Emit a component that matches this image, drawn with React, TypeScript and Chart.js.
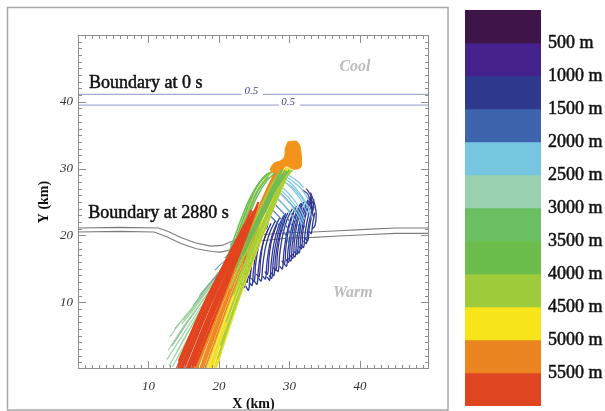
import React, { useEffect, useRef } from "react";
import { Chart, registerables } from "chart.js";

Chart.register(...registerables);

const FONT = "Liberation Serif";

// axes
const xRange = [0, 49.8];
const yRange = [0, 50];
const xTickValues = [10, 20, 30, 40];
const yTickValues = [10, 20, 30, 40];

// colour bar (height bands, m)
const bandSizes = [500, 500, 500, 500, 500, 500, 500, 500, 500, 500, 500, 500];
const bandLabels = [500, 1000, 1500, 2000, 2500, 3000, 3500, 4000, 4500, 5000, 5500];
const bandColors = [
  "#3d1549", "#45218b", "#2f3a8e", "#3e64ad", "#77c6e0", "#98d0b0",
  "#6bbf63", "#6dbd4c", "#9dcb3c", "#f7e51a", "#eb8522", "#e04522",
];

// boundary contours
const boundary0UpperA = [[0, 41.1], [23.2, 41.1]];
const boundary0UpperB = [[26.2, 41.1], [49.8, 41.1]];
const boundary0LowerA = [[0, 39.5], [28.5, 39.5]];
const boundary0LowerB = [[31.5, 39.5], [49.8, 39.5]];
const boundary2880Upper = [
  [0, 21.1], [6, 21.2], [11.4, 21.1], [12.8, 20.6], [14.6, 19.7], [16.6, 18.9], [18.8, 18.4],
  [20.4, 18.5], [21.8, 19.1], [23.4, 19.8], [26, 20.1], [30, 20.4], [33.4, 20.5], [37, 20.7],
  [40.8, 20.9], [45, 21.1], [49.8, 21.1],
];
const boundary2880Lower = [
  [0, 20.5], [6, 20.6], [10.8, 20.5], [12.6, 19.8], [14.6, 18.8], [16.8, 18.0], [19.0, 17.6],
  [20.2, 17.5], [21.6, 17.8], [23.0, 18.5], [26, 19.2], [30, 19.6], [33.4, 19.7], [37, 19.9],
  [40.8, 20.1], [45, 20.3], [49.8, 20.3],
];

// trajectories (x km, y km)
const paleGreenTracks = [
  [[12.6, 1.4], [14.8, 5.0], [17.0, 8.6], [19.2, 12.0], [21.2, 14.8], [22.4, 16.2]],
  [[13.0, 4.8], [15.0, 7.6], [17.2, 10.4], [19.4, 13.0], [21.4, 15.6], [22.8, 17.2]],
  [[14.7, 6.7], [16.6, 9.2], [18.4, 11.8], [20.2, 14.4], [22.0, 17.0], [23.2, 18.6]],
  [[15.6, 8.2], [17.4, 10.6], [19.2, 13.0], [21.0, 15.6], [22.4, 17.6]],
  [[12.9, 0.4], [14.6, 3.6], [16.6, 7.4], [18.8, 11.2], [20.8, 14.4], [22.0, 16.0]],
  [[14.0, 2.6], [15.9, 6.0], [17.9, 9.4], [19.9, 12.6], [21.6, 15.2], [22.6, 16.6]],
  [[12.8, 2.8], [15.0, 6.4], [17.2, 9.6], [19.4, 12.6], [21.4, 15.2], [22.6, 16.8]],
  [[15.0, 7.4], [17.0, 10.0], [18.8, 12.4], [20.6, 15.0], [22.2, 17.2]],
  [[13.4, 0.3], [15.2, 3.8], [17.2, 7.6], [19.2, 11.0], [21.0, 14.0], [22.2, 15.6]],
];
const sageTracks = [
  [[13.7, 6.0], [15.8, 8.6], [17.8, 11.2], [19.8, 13.8], [21.8, 16.4], [23.0, 18.0]],
  [[13.3, 3.4], [15.4, 6.8], [17.4, 9.8], [19.4, 12.8], [21.2, 15.4], [22.2, 16.8]],
  [[16.4, 9.6], [18.0, 11.8], [19.8, 14.2], [21.6, 16.8], [22.8, 18.6]],
  [[14.1, 0.2], [15.6, 3.2], [17.4, 6.8], [19.4, 10.8], [21.2, 14.0], [22.4, 15.8]],
  [[17.2, 11.0], [18.8, 13.0], [20.4, 15.0], [21.8, 16.6]],
];
const tealTracks = [
  [[19.4, 14.8], [20.6, 16.0], [21.8, 16.8], [22.4, 16.2]],
  [[20.0, 13.8], [21.2, 15.0], [22.2, 15.6], [22.6, 14.6]],
  [[20.8, 16.6], [21.8, 17.6], [22.8, 18.0], [23.0, 17.2]],
  [[19.0, 13.2], [20.2, 14.4], [21.0, 14.6]],
  [[21.4, 14.6], [22.2, 15.6], [23.0, 16.8], [23.4, 16.0]],
  [[21.6, 18.6], [22.4, 19.4], [23.2, 19.8], [23.6, 19.0]],
];
const redTracks = [
  [[14.0, 0], [16.0, 5.2], [18.0, 10.0], [20.2, 14.6], [22.2, 18.6], [23.6, 21.6]],
  [[14.2, 0], [16.2, 5.2], [18.2, 10.0], [20.4, 14.6], [22.4, 18.7], [23.8, 21.9]],
  [[14.5, 0], [16.5, 5.2], [18.5, 10.0], [20.6, 14.6], [22.6, 18.8], [24.0, 22.2]],
  [[14.7, 0], [16.7, 5.2], [18.7, 10.0], [20.8, 14.7], [22.8, 19.0], [24.2, 22.5]],
  [[15.0, 0], [17.0, 5.2], [18.9, 10.0], [21.0, 14.8], [23.0, 19.2], [24.4, 22.8]],
  [[15.4, 0], [17.3, 5.0], [19.2, 9.8], [21.3, 14.8], [23.3, 19.6], [24.8, 23.4]],
  [[15.6, 0], [17.5, 5.0], [19.4, 9.9], [21.5, 14.8], [23.4, 19.7], [24.9, 23.6]],
  [[15.8, 0], [17.7, 5.0], [19.6, 9.9], [21.6, 14.8], [23.6, 19.8], [25.1, 23.8]],
  [[16.0, 0], [17.9, 5.0], [19.8, 10.0], [21.8, 15.0], [23.8, 20.1], [25.3, 24.2]],
  [[16.2, 0], [18.0, 5.0], [19.9, 10.0], [21.9, 15.0], [23.9, 20.2], [25.4, 24.4]],
  [[14.3, 1.2], [16.4, 6.2], [18.4, 10.8], [20.6, 15.4], [22.5, 19.4]],
  [[15.2, 1.0], [17.2, 6.0], [19.2, 10.8], [21.2, 15.6], [23.2, 20.4], [24.6, 23.8]],
  [[16.6, 0.4], [18.4, 5.2], [20.3, 10.2], [22.2, 15.4], [24.2, 20.8], [25.6, 25.0]],
];
const orangeTracks = [
  [[16.5, 0], [18.3, 5.0], [20.2, 10.0], [22.2, 15.2], [24.2, 20.4], [26.0, 25.0], [27.6, 28.6], [29.0, 30.8]],
  [[16.7, 0], [18.5, 5.0], [20.3, 10.0], [22.3, 15.2], [24.3, 20.4], [26.1, 25.0], [27.4, 28.0], [28.0, 29.6]],
  [[16.9, 0], [18.7, 5.0], [20.5, 10.0], [22.5, 15.2], [24.5, 20.4], [26.3, 25.0], [27.9, 28.8], [29.4, 31.2]],
  [[17.3, 0], [19.0, 5.0], [20.8, 10.0], [22.8, 15.2], [24.8, 20.4], [26.6, 25.2], [28.2, 29.0], [29.8, 31.8]],
  [[17.5, 0], [19.2, 5.0], [21.0, 10.0], [22.9, 15.2], [24.9, 20.4], [26.7, 25.3], [28.3, 29.1], [30.0, 32.2]],
  [[17.7, 0], [19.4, 5.0], [21.1, 10.0], [23.0, 15.2], [25.0, 20.4], [26.9, 25.4], [28.5, 29.2], [30.2, 32.6]],
  [[18.0, 0], [19.7, 5.0], [21.4, 10.0], [23.3, 15.2], [25.3, 20.6], [27.1, 25.6], [28.8, 29.4], [30.6, 33.2]],
  [[16.2, 0.8], [18.0, 5.6], [19.9, 10.4], [21.9, 15.6], [23.8, 20.6], [25.6, 25.0]],
];
const yellowTracks = [
  [[18.3, 0], [19.9, 5.0], [21.6, 10.0], [23.4, 15.0], [25.3, 20.2], [27.1, 25.0], [28.6, 28.6], [29.6, 30.2]],
  [[18.6, 0], [20.2, 5.0], [21.9, 10.0], [23.7, 15.0], [25.6, 20.2], [27.4, 25.0], [28.9, 28.6], [29.9, 30.2]],
  [[18.8, 0], [20.3, 5.0], [22.0, 10.0], [23.8, 15.0], [25.7, 20.2], [27.5, 25.0], [29.0, 28.6], [30.0, 30.0]],
  [[19.0, 0], [20.5, 5.0], [22.1, 10.0], [23.9, 15.0], [25.8, 20.2], [27.6, 25.0], [29.1, 28.6], [30.2, 30.0]],
  [[19.3, 0], [20.8, 5.0], [22.4, 10.0], [24.2, 15.0], [26.0, 20.2], [27.8, 25.0], [29.3, 28.4], [30.4, 29.8]],
  [[19.4, 0], [20.9, 4.8], [22.5, 9.8], [24.3, 14.8], [26.1, 19.8], [27.9, 24.6], [29.3, 28.0]],
  [[19.6, 0.2], [21.1, 5.0], [22.7, 10.0], [24.4, 15.0], [26.2, 20.0], [28.0, 24.8], [29.4, 28.2]],
  [[17.6, 0.6], [19.3, 5.4], [21.0, 10.2], [22.9, 15.2], [24.9, 20.4], [26.8, 25.2], [28.3, 28.8]],
];
const yellowGreenTracks = [
  [[19.8, 1.5], [21.2, 6.0], [22.8, 10.8], [24.5, 15.6], [26.3, 20.4], [28.0, 25.0], [29.4, 28.4], [30.4, 29.8]],
  [[20.2, 3.5], [21.6, 7.6], [23.1, 12.0], [24.8, 16.6], [26.5, 21.0], [28.2, 25.4], [29.6, 28.8]],
  [[21.0, 7.0], [22.4, 11.0], [24.0, 15.4], [25.7, 19.8], [27.4, 24.2], [28.9, 27.8], [30.0, 29.6]],
  [[22.0, 11.0], [23.4, 14.6], [25.0, 18.4], [26.6, 22.4], [28.2, 26.2], [29.6, 29.0]],
  [[23.0, 14.0], [24.4, 17.6], [25.9, 21.0], [27.4, 24.6], [28.8, 27.6], [30.0, 29.6]],
  [[21.6, 12.0], [23.0, 15.6], [24.6, 19.2], [26.2, 22.8], [27.8, 26.4], [29.2, 29.2]],
  [[24.0, 17.0], [25.4, 20.2], [26.8, 23.2], [28.2, 26.2], [29.4, 28.6]],
  [[22.6, 13.0], [24.1, 16.8], [25.6, 20.4], [27.2, 23.8], [28.6, 27.0], [29.8, 29.4]],
  [[21.2, 15.0], [22.3, 18.4], [23.5, 22.0], [24.8, 25.4], [26.2, 28.0], [27.8, 29.8]],
  [[22.4, 14.8], [23.6, 18.2], [24.9, 21.6], [26.2, 24.8], [27.6, 27.8], [28.8, 29.8]],
  [[23.6, 15.4], [25.0, 18.8], [26.4, 22.0], [27.8, 25.2], [29.0, 28.0], [30.2, 29.6]],
  [[20.6, 14.0], [21.8, 17.6], [23.0, 21.2], [24.2, 24.6], [25.4, 27.4], [26.8, 29.2]],
];
const greenTracks = [
  [[22.4, 15.0], [23.8, 18.4], [25.2, 21.6], [26.6, 24.8], [27.8, 27.4], [28.8, 29.6]],
  [[23.4, 17.0], [24.8, 20.0], [26.2, 23.0], [27.4, 25.8], [28.6, 28.4], [29.4, 29.8]],
  [[23.8, 19.0], [25.0, 21.6], [26.3, 24.4], [27.5, 27.0], [28.4, 29.0]],
  [[24.6, 19.8], [25.8, 22.4], [27.0, 25.0], [28.1, 27.4], [29.0, 29.2]],
  [[25.2, 21.0], [26.4, 23.6], [27.6, 26.0], [28.6, 28.0], [29.6, 29.6]],
  [[22.8, 16.2], [24.2, 19.4], [25.6, 22.6], [27.0, 25.6], [28.2, 28.2], [29.0, 30.0]],
  [[25.8, 22.4], [27.0, 24.8], [28.0, 26.8], [29.0, 28.6], [30.0, 29.8]],
  [[26.4, 23.2], [27.4, 25.4], [28.4, 27.4], [29.4, 29.0]],
  [[21.5, 17.0], [22.6, 20.0], [23.8, 23.5], [25.0, 26.5], [26.4, 28.8], [27.6, 29.6]],
  [[21.8, 16.4], [23.0, 19.6], [24.2, 22.8], [25.4, 25.8], [26.8, 28.2], [28.0, 29.4]],
  [[22.2, 18.0], [23.3, 21.0], [24.4, 24.0], [25.6, 26.8], [27.0, 28.8]],
  [[21.0, 16.2], [22.1, 19.4], [23.2, 22.6], [24.4, 25.6], [25.8, 28.0], [27.2, 29.4]],
];
const lightBlueTracks = [
  [[28.6, 28.4], [29.8, 27.6], [31.0, 26.2], [32.0, 24.6], [32.6, 23.0]],
  [[28.9, 28.8], [30.2, 27.8], [31.4, 26.4], [32.4, 24.8], [33.0, 23.4]],
  [[28.2, 27.8], [29.4, 26.8], [30.6, 25.4], [31.6, 23.8], [32.2, 22.4]],
  [[29.2, 29.0], [30.6, 28.0], [31.8, 26.8], [32.8, 25.2]],
  [[27.8, 27.0], [29.0, 26.0], [30.2, 24.6], [31.2, 23.0], [31.8, 21.6]],
  [[29.5, 29.2], [30.8, 28.4], [32.0, 27.2]],
  [[27.4, 26.4], [28.6, 25.2], [29.8, 23.8], [30.8, 22.2]],
  [[28.0, 27.4], [29.2, 26.4], [30.4, 25.0], [31.4, 23.4], [32.0, 22.0]],
  [[29.0, 28.2], [30.4, 27.2], [31.6, 25.8], [32.6, 24.2], [33.2, 22.6]],
];
const midBlueTracks = [
  [[27.0, 25.6], [28.2, 24.4], [29.4, 23.0], [30.4, 21.4], [31.0, 19.8]],
  [[27.6, 26.2], [28.8, 25.0], [30.0, 23.6], [31.0, 22.0], [31.6, 20.6]],
  [[26.6, 24.8], [27.8, 23.6], [29.0, 22.2], [30.0, 20.6], [30.6, 19.0]],
  [[28.2, 26.8], [29.4, 25.6], [30.6, 24.2], [31.6, 22.6], [32.2, 21.2]],
  [[26.2, 24.0], [27.4, 22.8], [28.6, 21.4], [29.6, 19.8], [30.0, 18.4]],
];
const darkBlueTracks = [
  [[23.0, 14.6], [23.3, 13.9], [23.5, 15.8], [23.9, 18.2], [24.6, 19.8]],
  [[23.2, 12.8], [23.6, 12.2], [23.8, 14.4], [24.2, 16.8], [24.9, 19.0]],
  [[23.8, 12.4], [24.2, 11.8], [24.4, 14.0], [24.8, 16.6], [25.5, 18.8]],
  [[23.2, 15.6], [23.6, 15.0], [23.8, 17.0], [24.2, 19.0], [24.9, 20.6]],
  [[23.6, 13.6], [24.0, 13.0], [24.2, 15.2], [24.6, 17.8], [25.4, 19.8], [26.2, 21.0]],
  [[24.3, 13.0], [24.7, 12.5], [24.9, 14.8], [25.3, 17.6], [26.0, 19.8], [26.9, 21.4]],
  [[24.6, 13.6], [25.0, 13.1], [25.2, 15.6], [25.6, 18.2], [26.3, 20.4], [27.0, 21.8]],
  [[25.0, 13.2], [25.4, 12.7], [25.6, 15.0], [26.0, 17.8], [26.6, 20.0], [27.4, 21.8]],
  [[25.6, 13.6], [26.0, 13.2], [26.2, 15.4], [26.6, 18.2], [27.2, 20.4], [28.0, 22.2]],
  [[26.2, 13.9], [26.6, 13.5], [26.8, 15.8], [27.2, 18.6], [27.8, 20.8], [28.6, 22.6]],
  [[26.8, 13.8], [27.2, 13.3], [27.4, 15.8], [27.8, 18.8], [28.4, 21.2], [29.2, 23.0]],
  [[27.1, 14.0], [27.5, 13.6], [27.7, 16.1], [28.1, 18.9], [28.7, 21.4], [29.5, 23.3]],
  [[27.4, 14.4], [27.8, 14.0], [28.0, 16.4], [28.4, 19.2], [29.0, 21.6], [29.8, 23.4]],
  [[28.0, 15.0], [28.4, 14.6], [28.6, 17.0], [29.0, 19.8], [29.6, 22.2], [30.4, 24.0]],
  [[28.6, 15.4], [29.0, 15.0], [29.2, 17.4], [29.6, 20.2], [30.2, 22.6], [31.0, 24.4]],
  [[29.2, 15.8], [29.6, 15.4], [29.8, 17.8], [30.2, 20.6], [30.8, 23.0], [31.6, 24.8]],
  [[29.5, 16.4], [29.9, 16.0], [30.1, 18.4], [30.5, 21.0], [31.1, 23.4], [31.9, 25.0]],
  [[29.8, 16.6], [30.2, 16.2], [30.4, 18.6], [30.8, 21.2], [31.4, 23.6], [32.2, 25.2]],
  [[30.4, 17.2], [30.8, 16.8], [31.0, 19.0], [31.4, 21.6], [32.0, 24.0], [32.8, 25.6]],
  [[30.7, 17.6], [31.1, 17.2], [31.3, 19.4], [31.7, 22.0], [32.3, 24.2], [33.0, 25.8]],
  [[31.0, 17.8], [31.4, 17.4], [31.6, 19.6], [32.0, 22.2], [32.6, 24.4], [33.2, 25.8]],
  [[31.6, 18.6], [32.0, 18.2], [32.2, 20.2], [32.6, 22.6], [33.1, 24.6], [33.5, 25.4]],
  [[32.0, 19.2], [32.4, 18.8], [32.6, 20.8], [33.0, 23.0], [33.5, 25.0]],
  [[32.2, 19.6], [32.6, 19.2], [32.8, 21.0], [33.2, 23.2], [33.5, 24.4]],
  [[32.8, 20.6], [33.1, 20.3], [33.3, 21.8], [33.6, 23.4]],
  [[33.2, 21.0], [33.6, 21.4], [33.8, 23.0], [33.6, 24.6], [33.0, 26.4]],
];
const purpleTracks = [
  [[24.0, 14.0], [24.4, 13.6], [24.6, 16.0], [25.0, 18.6], [25.8, 20.6]],
  [[25.3, 14.2], [25.7, 13.8], [25.9, 16.2], [26.3, 19.0], [27.0, 21.0]],
  [[26.5, 14.6], [26.9, 14.2], [27.1, 16.6], [27.5, 19.4], [28.2, 21.6]],
  [[27.7, 15.2], [28.1, 14.8], [28.3, 17.2], [28.7, 20.0], [29.4, 22.4]],
  [[28.9, 16.2], [29.3, 15.8], [29.5, 18.2], [29.9, 21.0], [30.6, 23.4]],
  [[30.1, 17.0], [30.5, 16.6], [30.7, 19.0], [31.1, 21.8], [31.8, 24.2]],
  [[31.3, 18.4], [31.7, 18.0], [31.9, 20.4], [32.3, 23.0], [33.0, 25.0]],
  [[31.8, 26.8], [32.6, 26.2], [33.0, 24.8], [33.4, 22.8]],
  [[32.4, 27.0], [33.0, 26.0], [33.2, 24.0]],
];
const orangeBlob = [
  [29.7, 34.0], [31.0, 34.1], [31.5, 33.3], [31.7, 31.5], [31.6, 30.2], [30.6, 29.9], [29.6, 30.4],
  [28.6, 29.7], [27.6, 29.4], [27.3, 29.9], [27.8, 30.8], [28.8, 31.2], [29.3, 31.8], [29.4, 33.2],
];

// text annotations (data coordinates)
const notes = [
  { text: "Boundary at 0 s", x: 1.55, y: 42.0, font: `18px "${FONT}"`, color: "#111", align: "left", base: "alphabetic", stroke: 0.5 },
  { text: "Boundary at 2880 s", x: 1.45, y: 22.55, font: `18px "${FONT}"`, color: "#111", align: "left", base: "alphabetic", stroke: 0.5 },
  { text: "Cool", x: 39.3, y: 45.2, font: `italic bold 16px "${FONT}"`, color: "#bcbcbc", align: "center", base: "middle", stroke: 0 },
  { text: "Warm", x: 39.0, y: 11.4, font: `italic bold 16px "${FONT}"`, color: "#bcbcbc", align: "center", base: "middle", stroke: 0 },
  { text: "0.5", x: 24.6, y: 41.6, font: `italic 11px "${FONT}"`, color: "#3c3c8c", align: "center", base: "middle", stroke: 0 },
  { text: "0.5", x: 29.8, y: 39.9, font: `italic 11px "${FONT}"`, color: "#3c3c8c", align: "center", base: "middle", stroke: 0 },
];

type Pt = number[];

function lineSet(pts: Pt[], color: string, width: number, tension = 0.35, extra: any = {}) {
  return {
    data: pts.map(([x, y]) => ({ x, y })),
    borderColor: color,
    backgroundColor: color,
    borderWidth: width,
    showLine: true,
    pointRadius: 0,
    pointHoverRadius: 0,
    tension,
    fill: false,
    ...extra,
  };
}

function buildMainDatasets() {
  const layers: any[] = [];
  const group = (tracks: Pt[][], color: string, width: number) =>
    tracks.forEach((t) => layers.push(lineSet(t, color, width)));
  // bottom -> top
  [boundary0UpperA, boundary0UpperB, boundary0LowerA, boundary0LowerB].forEach((b) =>
    layers.push(lineSet(b, "#a6aad2", 1.2, 0))
  );
  layers.push(lineSet(boundary2880Upper, "#7c7c7c", 1.1, 0));
  layers.push(lineSet(boundary2880Lower, "#7c7c7c", 1.1, 0));
  group(darkBlueTracks, "#2c3b96", 1.3);
  group(purpleTracks, "#3b2d8c", 1.2);
  group(midBlueTracks, "#4272bd", 1.2);
  group(lightBlueTracks, "#7ec7e2", 1.2);
  group(sageTracks, "#80b092", 1.1);
  group(paleGreenTracks, "#9fd6a0", 1.2);
  group(tealTracks, "#5aa8bc", 1.1);
  group(yellowTracks, "#f2de24", 1.7);
  group(orangeTracks, "#ec8a20", 1.8);
  group(yellowGreenTracks, "#a6d03a", 1.6);
  group(greenTracks, "#6cbd58", 1.5);
  group(redTracks, "#e2441f", 2.2);
  layers.push(
    lineSet(orangeBlob, "#f2941c", 1, 0.3, { fill: "shape", backgroundColor: "#f2941c" })
  );
  // Chart.js draws index 0 last (on top)
  return layers.reverse();
}

const decorPlugin = {
  id: "decor",
  afterDraw(chart: any) {
    const { ctx, chartArea: a, scales } = chart;
    const xs = scales.x;
    const ys = scales.y;
    ctx.save();
    // figure frame
    ctx.strokeStyle = "#a8a8a8";
    ctx.lineWidth = 1.5;
    ctx.strokeRect(7.5, 7.5, 440.5, 402.5);
    // plot frame
    ctx.strokeStyle = "#8e8e8e";
    ctx.lineWidth = 1;
    ctx.strokeRect(a.left + 0.5, a.top + 0.5, a.right - a.left - 1, a.bottom - a.top - 1);
    // inward ticks
    ctx.beginPath();
    for (let v = Math.ceil(xs.min + 0.01); v < xs.max; v++) {
      const p = Math.round(xs.getPixelForValue(v)) + 0.5;
      const len = v % 10 === 0 ? 8 : 4;
      ctx.moveTo(p, a.bottom);
      ctx.lineTo(p, a.bottom - len);
      ctx.moveTo(p, a.top);
      ctx.lineTo(p, a.top + len);
    }
    for (let v = Math.ceil(ys.min + 0.01); v < ys.max; v++) {
      const p = Math.round(ys.getPixelForValue(v)) + 0.5;
      const len = v % 10 === 0 ? 8 : 4;
      ctx.moveTo(a.left, p);
      ctx.lineTo(a.left + len, p);
      ctx.moveTo(a.right, p);
      ctx.lineTo(a.right - len, p);
    }
    ctx.stroke();
    // annotations
    notes.forEach((n) => {
      const px = xs.getPixelForValue(n.x);
      const py = ys.getPixelForValue(n.y);
      ctx.font = n.font;
      ctx.fillStyle = n.color;
      ctx.textAlign = n.align;
      ctx.textBaseline = n.base;
      ctx.fillText(n.text, px, py);
      if (n.stroke > 0) {
        ctx.strokeStyle = n.color;
        ctx.lineWidth = n.stroke;
        ctx.strokeText(n.text, px, py);
      }
    });
    ctx.restore();
  },
};

function mainConfig(): any {
  return {
    type: "scatter",
    data: { datasets: buildMainDatasets() },
    plugins: [decorPlugin],
    options: {
      responsive: false,
      animation: false,
      events: [],
      layout: { padding: { top: 35, right: 21, left: 0, bottom: 0 } },
      plugins: { legend: { display: false }, tooltip: { enabled: false } },
      scales: {
        x: {
          type: "linear",
          min: xRange[0],
          max: xRange[1],
          afterBuildTicks: (s: any) => {
            s.ticks = xTickValues.map((value) => ({ value }));
          },
          afterFit: (s: any) => {
            s.height = 42;
            s.paddingLeft = 0;
            s.paddingRight = 0;
          },
          grid: { display: false, drawTicks: false },
          border: { display: false },
          ticks: {
            font: { family: FONT, size: 13, style: "italic" },
            color: "#333",
            padding: 10,
            maxRotation: 0,
            autoSkip: false,
          },
          title: {
            display: true,
            text: "X (km)",
            font: { family: FONT, size: 14, weight: "bold", lineHeight: 1 },
            color: "#111",
            padding: { top: 0, bottom: 0 },
          },
        },
        y: {
          type: "linear",
          min: yRange[0],
          max: yRange[1],
          afterBuildTicks: (s: any) => {
            s.ticks = yTickValues.map((value) => ({ value }));
          },
          afterFit: (s: any) => {
            s.width = 78;
            s.paddingTop = 0;
            s.paddingBottom = 0;
          },
          grid: { display: false, drawTicks: false },
          border: { display: false },
          ticks: {
            font: { family: FONT, size: 13, style: "italic" },
            color: "#333",
            padding: 5,
            autoSkip: false,
          },
          title: {
            display: true,
            text: "Y (km)",
            font: { family: FONT, size: 14, weight: "bold", lineHeight: 1 },
            color: "#111",
            padding: { top: 37, bottom: 0 },
          },
        },
      },
    },
  };
}

function barConfig(): any {
  return {
    type: "bar",
    data: {
      labels: ["height"],
      datasets: bandSizes.map((v, i) => ({
        data: [v],
        backgroundColor: bandColors[i],
        borderWidth: 0,
        stack: "bands",
        barPercentage: 1,
        categoryPercentage: 1,
      })),
    },
    options: {
      responsive: false,
      animation: false,
      events: [],
      layout: { padding: { top: 10, bottom: 5, left: 25, right: 0 } },
      plugins: { legend: { display: false }, tooltip: { enabled: false } },
      scales: {
        x: { stacked: true, display: false },
        y: {
          stacked: true,
          position: "right",
          reverse: true,
          min: 0,
          max: 6000,
          afterBuildTicks: (s: any) => {
            s.ticks = bandLabels.map((value) => ({ value }));
          },
          afterFit: (s: any) => {
            s.width = 64;
            s.paddingTop = 0;
            s.paddingBottom = 0;
          },
          grid: { display: false, drawTicks: false },
          border: { display: false },
          ticks: {
            font: { family: FONT, size: 18 },
            color: "#111",
            textStrokeColor: "#111",
            textStrokeWidth: 0.5,
            padding: 7,
            autoSkip: false,
            callback: (v: any) => `${v} m`,
          },
        },
      },
    },
  };
}

export default function App() {
  const mainRef = useRef<HTMLCanvasElement>(null);
  const barRef = useRef<HTMLCanvasElement>(null);
  useEffect(() => {
    const c1 = new Chart(mainRef.current as HTMLCanvasElement, mainConfig());
    const c2 = new Chart(barRef.current as HTMLCanvasElement, barConfig());
    return () => {
      c1.destroy();
      c2.destroy();
    };
  }, []);
  return (
    <div
      style={{
        position: "fixed",
        left: 0,
        top: 0,
        width: 605,
        height: 411,
        background: "#fff",
        overflow: "hidden",
      }}
    >
      <canvas ref={mainRef} width={450} height={411} style={{ position: "absolute", left: 0, top: 0 }} />
      <canvas ref={barRef} width={165} height={411} style={{ position: "absolute", left: 440, top: 0 }} />
    </div>
  );
}
